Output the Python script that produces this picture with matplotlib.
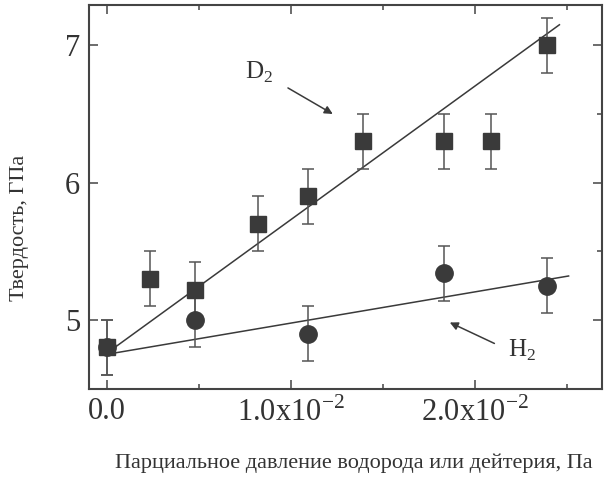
import numpy as np
import matplotlib
matplotlib.use('Agg')
import matplotlib.pyplot as plt
from matplotlib.ticker import FixedLocator

plt.rcParams['font.family'] = ['Liberation Serif', 'DejaVu Serif']
plt.rcParams['mathtext.fontset'] = 'custom'
plt.rcParams['mathtext.rm'] = 'Liberation Serif'

# D2 (squares)
d2_x = [0.0, 0.23e-2, 0.48e-2, 0.82e-2, 1.09e-2, 1.39e-2, 1.83e-2, 2.09e-2, 2.39e-2]
d2_y = [4.80, 5.30, 5.22, 5.70, 5.90, 6.30, 6.30, 6.30, 7.00]
d2_err = [0.2, 0.2, 0.2, 0.2, 0.2, 0.2, 0.2, 0.2, 0.2]
d2_fit_x = [0.0, 2.46e-2]
d2_fit_y = [4.76, 7.15]

# H2 (circles)
h2_x = [0.0, 0.48e-2, 1.09e-2, 1.83e-2, 2.39e-2]
h2_y = [4.80, 5.00, 4.90, 5.34, 5.25]
h2_err = [0.2, 0.2, 0.2, 0.2, 0.2]
h2_fit_x = [0.0, 2.51e-2]
h2_fit_y = [4.75, 5.32]

xticks = [0.0, 1.0e-2, 2.0e-2]
xtick_labels = ['0.0', r'1.0x10$^{\mathregular{-2}}$', r'2.0x10$^{\mathregular{-2}}$']
yticks = [5, 6, 7]

c = '#3a3a3a'

fig = plt.figure(figsize=(6.08, 4.82), dpi=100)
ax = fig.add_axes([0.1459, 0.193, 0.9896 - 0.1459, 0.9902 - 0.193])

ax.plot(d2_fit_x, d2_fit_y, color=c, lw=1.1, zorder=2)
ax.plot(h2_fit_x, h2_fit_y, color=c, lw=1.1, zorder=2)

ax.errorbar(d2_x, d2_y, yerr=d2_err, fmt='s', ms=11, color=c, mec=c,
            ecolor='#555555', elinewidth=1.1, capsize=4.5, capthick=1.1, zorder=3)
ax.errorbar(h2_x, h2_y, yerr=h2_err, fmt='o', ms=12.5, color=c, mec=c,
            ecolor='#555555', elinewidth=1.1, capsize=4.5, capthick=1.1, zorder=3)

ax.set_xlim(-0.101e-2, 2.69e-2)
ax.set_ylim(4.497, 7.296)

ax.xaxis.set_major_locator(FixedLocator(xticks))
ax.set_xticklabels(xtick_labels)
ax.xaxis.set_minor_locator(FixedLocator([0.5e-2, 1.5e-2, 2.5e-2]))
ax.yaxis.set_major_locator(FixedLocator(yticks))
ax.yaxis.set_minor_locator(FixedLocator([5.5, 6.5]))

ax.tick_params(which='both', direction='in', top=True, right=True,
               colors='#444444', labelcolor='#333333', width=1.1)
ax.tick_params(which='major', length=6.5, labelsize=22, pad=6)
ax.tick_params(which='minor', length=3.5)
ax.tick_params(axis='y', which='minor', left=False, right=True)

for s in ax.spines.values():
    s.set_linewidth(1.5)
    s.set_color('#444444')

# annotations
ax.annotate('', xy=(1.24e-2, 6.49), xytext=(0.97e-2, 6.70),
            arrowprops=dict(arrowstyle='-|>', color=c, lw=1.1, mutation_scale=12))
ax.text(0.75e-2, 6.80, r'D$_{\mathregular{2}}$', fontsize=18, color='#333333',
        ha='left', va='center')

ax.annotate('', xy=(1.85e-2, 4.99), xytext=(2.12e-2, 4.82),
            arrowprops=dict(arrowstyle='-|>', color=c, lw=1.1, mutation_scale=12))
ax.text(2.18e-2, 4.78, r'H$_{\mathregular{2}}$', fontsize=18, color='#333333',
        ha='left', va='center')

fig.text(354 / 608, 1 - 463 / 482, 'Парциальное давление водорода или дейтерия, Па',
         fontsize=16, color='#333333', ha='center', va='center')
fig.text(20 / 608, 1 - 228 / 482, 'Твердость, ГПа', fontsize=16, color='#333333',
         rotation=90, ha='center', va='center')

fig.savefig('out.png', dpi=100)
